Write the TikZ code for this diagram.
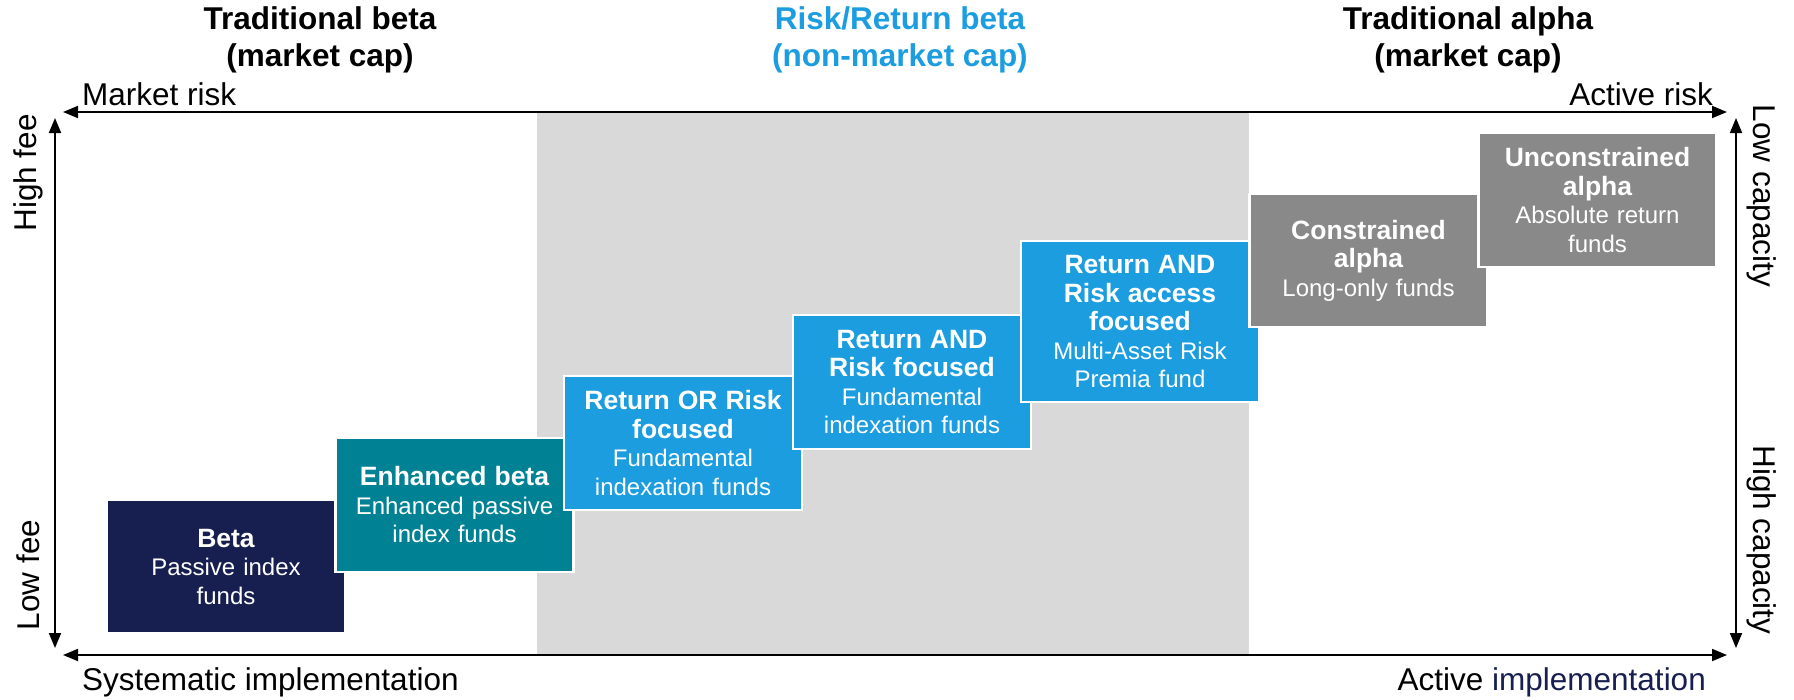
\documentclass[tikz,border=0pt]{standalone}
\usepackage{fontspec}
\setmainfont{Liberation Sans}
\usepackage{xcolor}
\usepackage{tikz}
\usetikzlibrary{arrows.meta}

\definecolor{navyblue}{RGB}{23,30,80}
\definecolor{tealblue}{RGB}{0,130,148}
\definecolor{skyblue}{RGB}{28,157,224}
\definecolor{midgray}{RGB}{137,137,137}
\definecolor{bandgray}{RGB}{217,217,217}

\newcommand{\fundname}[1]{{\fontsize{26.5}{29}\selectfont\bfseries #1}}

\begin{document}
\begin{tikzpicture}[x=1pt,y=-1pt,
    axis/.style={line width=1.8pt,{Triangle[length=15pt,width=12pt]}-{Triangle[length=15pt,width=12pt]}},
    axislabel/.style={font=\fontsize{31.5}{37}\selectfont,inner sep=0pt},
    headline/.style={font=\fontsize{31.5}{37}\selectfont\bfseries,align=center,inner sep=0pt},
    fundbox/.style={draw=white,line width=2.5pt,text=white,text width=230pt,inner xsep=4pt,inner ysep=0pt,
        align=center,minimum height=134pt,font=\fontsize{24}{28.5}\selectfont}]
        \useasboundingbox (0,0) rectangle (1794,699);
        % non-market cap band
        \fill[bandgray] (537,112) rectangle (1249,655);
        % titles
        \node[headline] (tbeta) at (320,40) {Traditional beta\\(market cap)};
        \node[headline,text=skyblue] (rrbeta) at (900,40) {Risk/Return beta\\(non-market cap)};
        \node[headline] (talpha) at (1468,40) {Traditional alpha\\(market cap)};
        % axes
        \coordinate (tl) at (63,112);
        \coordinate (tr) at (1727,112);
        \coordinate (bl) at (63,655);
        \coordinate (br) at (1727,655);
        \coordinate (lt) at (55,118);
        \coordinate (lb) at (55,648);
        \coordinate (rt) at (1736,118);
        \coordinate (rb) at (1736,648);
        \draw[axis] (tl)--(tr);
        \draw[axis] (bl)--(br);
        \draw[axis] (lt)--(lb);
        \draw[axis] (rt)--(rb);
        \node[axislabel,anchor=base west] (mrisk) at (82,105) {Market risk};
        \node[axislabel,anchor=base east] (arisk) at (1713,105) {Active risk};
        \node[axislabel,anchor=base west] (simpl) at (82,690) {Systematic implementation};
        \node[axislabel,anchor=base east] (aimpl) at (1706,690) {Active \textcolor{navyblue}{implementation}};
        \node[axislabel,rotate=90] (hfee) at (28,173) {High fee};
        \node[axislabel,rotate=90] (lfee) at (28,575) {Low fee};
        \node[axislabel,rotate=-90] (lcap) at (1762,196) {Low capacity};
        \node[axislabel,rotate=-90] (hcap) at (1762,540) {High capacity};
        % fund boxes, low to high
        \node[fundbox,fill=navyblue,minimum height=133pt] (beta) at (226,566.5) {\fundname{Beta}\\Passive index\\funds};
        \node[fundbox,fill=tealblue] (enhbeta) at (454.5,505) {\fundname{Enhanced beta}\\Enhanced passive\\index funds};
        \node[fundbox,fill=skyblue] (retorrisk) at (683,443) {\fundname{Return OR Risk\\focused}\\Fundamental\\indexation funds};
        \node[fundbox,fill=skyblue] (retandrisk) at (912,382) {\fundname{Return AND\\Risk focused}\\Fundamental\\indexation funds};
        \node[fundbox,fill=skyblue,minimum height=161pt] (riskaccess) at (1140,321.5) {\fundname{Return AND\\Risk access\\focused}\\Multi-Asset Risk\\Premia fund};
        \node[fundbox,fill=midgray,minimum height=133pt] (conalpha) at (1368.5,260.5) {\fundname{Constrained\\alpha}\\Long-only funds};
        \node[fundbox,fill=midgray] (unconalpha) at (1597.5,200) {\fundname{Unconstrained\\alpha}\\Absolute return\\funds};
\end{tikzpicture}
\end{document}
